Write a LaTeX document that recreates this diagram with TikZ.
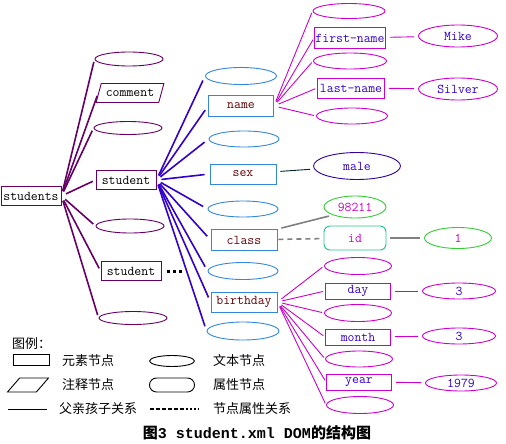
\documentclass[tikz,border=0pt]{standalone}
\usepackage{fontspec}
\newfontfamily\capmono{Liberation Mono}
\newfontfamily\cjk{Noto Sans CJK SC}
\usetikzlibrary{shapes.geometric}

\definecolor{lvone}{HTML}{660066}
\definecolor{lvtwo}{HTML}{3388DD}
\definecolor{elemtext}{HTML}{660000}
\definecolor{linktwo}{HTML}{3300CC}
\definecolor{magent}{HTML}{CC00CC}
\definecolor{txtblue}{HTML}{3300CC}
\definecolor{maleline}{HTML}{330099}
\definecolor{grn}{HTML}{33CC33}
\definecolor{attrgrn}{HTML}{22C488}
\definecolor{greyline}{HTML}{808080}

\newcommand\xmlfont{\fontsize{13.4}{14}\selectfont\ttfamily}
\newcommand\legfont{\fontsize{13}{14}\selectfont\cjk}

\tikzset{
  elem/.style={draw, rectangle, line width=0.9pt, inner sep=0pt, font=\xmlfont},
  txt/.style={draw, ellipse, line width=0.9pt, inner sep=0pt, font=\xmlfont},
  comm/.style={draw, trapezium, trapezium left angle=60, trapezium right angle=120,
    trapezium stretches=true, line width=0.9pt, inner sep=0pt, font=\xmlfont},
  attr/.style={draw, rectangle, rounded corners=6pt, line width=0.9pt, inner sep=0pt, font=\xmlfont},
  kidone/.style={draw=lvone, line width=1.6pt, shorten <=5pt, shorten >=3pt},
  kidtwo/.style={draw=linktwo, line width=1.6pt, shorten <=5pt, shorten >=5pt},
  kidthree/.style={draw=magent, line width=0.9pt, shorten <=5pt, shorten >=2pt},
  valline/.style={line width=0.9pt, shorten <=4pt, shorten >=4pt},
  legend/.style={font=\legfont, anchor=west, inner sep=0pt}
}

\begin{document}
\begin{tikzpicture}[x=1pt,y=-1pt]
\useasboundingbox[fill=white] (0,0) rectangle (506,444);

\node[elem, draw=lvone, minimum width=60, minimum height=19] (students) at (31,196) {students};

\node[txt, draw=lvone, minimum width=68, minimum height=14] (e1) at (129,59) {};
\node[comm, draw=lvone, minimum width=68, minimum height=19] (cm) at (130,93) {comment};
\node[txt, draw=lvone, minimum width=68, minimum height=13] (e2) at (128,128) {};
\node[elem, draw=lvone, minimum width=60, minimum height=19] (s1) at (126,180) {student};
\node[txt, draw=lvone, minimum width=68, minimum height=14] (e3) at (130,226) {};
\node[elem, draw=lvone, minimum width=60, minimum height=19] (s2) at (131,271) {student};
\node[txt, draw=lvone, minimum width=68, minimum height=13] (e4) at (133,318) {};
\coordinate (more) at (185,271);

\node[txt, draw=lvtwo, minimum width=71, minimum height=17] (f1) at (241,76) {};
\node[elem, draw=lvtwo, text=elemtext, minimum width=65, minimum height=21] (name) at (241,106) {name};
\node[txt, draw=lvtwo, minimum width=70, minimum height=16] (f2) at (244,139) {};
\node[elem, draw=lvtwo, text=elemtext, minimum width=66, minimum height=20] (sex) at (243,174) {sex};
\node[txt, draw=lvtwo, minimum width=70, minimum height=16] (f3) at (243,209) {};
\node[elem, draw=lvtwo, text=elemtext, minimum width=66, minimum height=21] (class) at (244,240) {class};
\node[txt, draw=lvtwo, minimum width=70, minimum height=17] (f4) at (243,271) {};
\node[elem, draw=lvtwo, text=elemtext, minimum width=66, minimum height=20] (bday) at (244,302) {birthday};
\node[txt, draw=lvtwo, minimum width=72, minimum height=18] (f5) at (243,331) {};

\node[txt, draw=magent, minimum width=72, minimum height=15] (g1) at (349,11) {};
\node[elem, draw=magent, text=txtblue, minimum width=71, minimum height=21] (fn) at (350,38) {first-name};
\node[txt, draw=magent, minimum width=73, minimum height=16] (g2) at (350,61) {};
\node[elem, draw=magent, text=txtblue, minimum width=67, minimum height=20] (ln) at (351,88) {last-name};
\node[txt, draw=magent, minimum width=71, minimum height=16] (g3) at (352,116) {};
\node[txt, draw=magent, text=txtblue, minimum width=79, minimum height=22] (mike) at (458,36) {Mike};
\node[txt, draw=magent, text=txtblue, minimum width=79, minimum height=22] (silver) at (458,89) {Silver};

\node[txt, draw=maleline, text=txtblue, minimum width=87, minimum height=27] (male) at (357,166) {male};

\node[txt, draw=grn, text=magent, minimum width=62, minimum height=22] (num) at (355,207) {98211};
\node[attr, draw=attrgrn, text=magent, minimum width=62, minimum height=24] (id) at (355,238) {id};
\node[txt, draw=grn, text=magent, minimum width=67, minimum height=21] (one) at (458,238) {1};

\node[txt, draw=magent, minimum width=67, minimum height=17] (h1) at (358,266) {};
\node[elem, draw=magent, text=txtblue, minimum width=65, minimum height=16] (day) at (358,291) {day};
\node[txt, draw=magent, minimum width=67, minimum height=17] (h2) at (358,313) {};
\node[elem, draw=magent, text=txtblue, minimum width=65, minimum height=16] (month) at (358,337) {month};
\node[txt, draw=magent, minimum width=67, minimum height=16] (h3) at (359,359) {};
\node[elem, draw=magent, text=txtblue, minimum width=65, minimum height=16] (year) at (359,382) {year};
\node[txt, draw=magent, minimum width=67, minimum height=17] (h4) at (360,405) {};
\node[txt, draw=magent, text=txtblue, minimum width=73, minimum height=16] (dval) at (459,291) {3};
\node[txt, draw=magent, text=txtblue, minimum width=73, minimum height=16] (mval) at (459,336) {3};
\node[txt, draw=magent, text=txtblue, minimum width=71, minimum height=16] (yval) at (461,383) {1979};

\foreach \k in {e1,cm,e2,s1,e3,s2,e4}
  \draw[kidone] (students.east) -- (\k.west);
\foreach \k in {f1,name,f2,sex,f3,class,f4,bday,f5}
  \draw[kidtwo] (s1.east) -- (\k.west);
\foreach \k in {g1,fn,g2,ln,g3}
  \draw[kidthree] (name.east) -- (\k.west);
\foreach \k in {h1,day,h2,month,h3,year,h4}
  \draw[kidthree] (bday.east) -- (\k.west);
\draw[valline, magent] (fn) -- (mike);
\draw[valline, magent] (ln) -- (silver);
\draw[valline, magent] (day) -- (dval);
\draw[valline, magent] (month) -- (mval);
\draw[valline, magent] (year) -- (yval);
\draw[valline, black!70!teal] (sex) -- (male);
\draw[valline, greyline, line width=1.6pt] (class.north east) -- (num.south west);
\draw[valline, greyline, line width=1.6pt, dash pattern=on 5pt off 4pt, shorten <=1pt, shorten >=1pt] (class) -- (id);
\draw[valline, greyline, line width=1.6pt] (id) -- (one);
\draw[line width=3pt, dash pattern=on 3pt off 3pt] ([xshift=6pt]s2.east) -- (more);

\node[legend] (leghead) at (12,344) {图例：};
\node[elem, minimum width=36, minimum height=11] (legelem) at (31,360) {};
\node[legend] at (62,361) {元素节点};
\node[txt, minimum width=45, minimum height=11] (legtxt) at (172,361) {};
\node[legend] at (213,361) {文本节点};
\node[comm, inner sep=2pt, trapezium left angle=54, trapezium right angle=126, minimum width=41, minimum height=14] (legcomm) at (28,385) {};
\node[legend] at (62,385) {注释节点};
\node[attr, rounded corners=7pt, minimum width=45, minimum height=14] (legattr) at (172,385) {};
\node[legend] at (213,385) {属性节点};
\coordinate (solida) at (8,409);
\coordinate (solidb) at (47,409);
\draw (solida) -- (solidb);
\node[legend] at (59,409) {父亲孩子关系};
\coordinate (dasha) at (150,409);
\coordinate (dashb) at (186,409);
\coordinate (dashc) at (199,409);
\draw[line width=1.2pt, dash pattern=on 4pt off 2pt] (dasha) -- (dashb);
\draw[line width=1.2pt, dash pattern=on 1.5pt off 2.5pt] (dashb) -- (dashc);
\node[legend] at (213,409) {节点属性关系};

\node[inner sep=0pt, font=\fontsize{15}{16}\selectfont\bfseries] (caption) at (257,433)
  {{\cjk 图}{\capmono 3 student.xml DOM}{\cjk 的结构图}};
\end{tikzpicture}
\end{document}
